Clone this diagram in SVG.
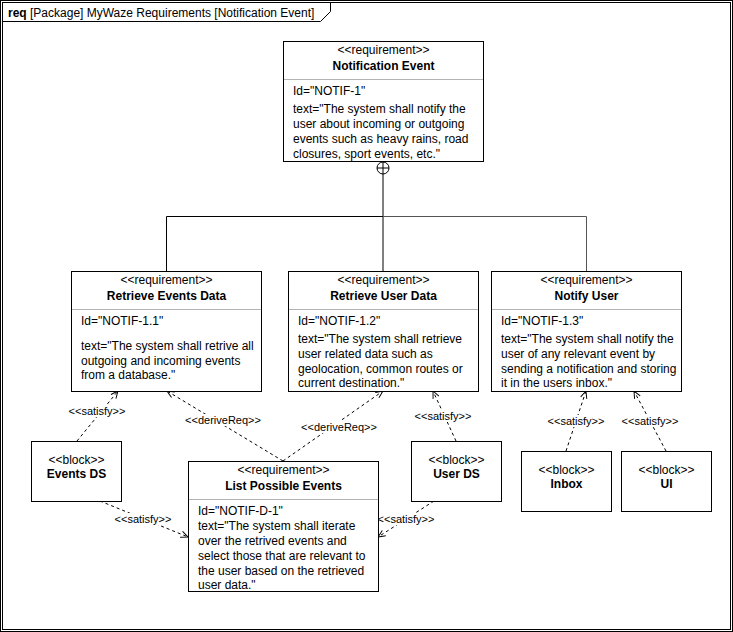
<svg xmlns="http://www.w3.org/2000/svg" width="733" height="632" viewBox="0 0 733 632">
  <defs>
    <marker id="open" viewBox="0 0 10 10" refX="10" refY="5" markerWidth="8" markerHeight="8" orient="auto" markerUnits="userSpaceOnUse">
      <path d="M1,1 L10,5 L1,9" fill="none" stroke="#000" stroke-width="1.2"/>
    </marker>
  </defs>
  <style>
    text { font-family: "Liberation Sans", Arial, sans-serif; font-size: 12px; fill: #000; }
    .b { font-weight: bold; }
    .c { text-anchor: middle; }
    .box { fill: #fff; stroke: #000; stroke-width: 1; }
    .div { stroke: #b3b3b3; stroke-width: 1; }
    .dep { fill: none; stroke: #000; stroke-width: 1; stroke-dasharray: 3 3; marker-end: url(#open); }
    .lbl { font-size: 11px; text-anchor: middle; }
    .lbg { fill: #fff; }
    .tree { fill: none; stroke: #000; stroke-width: 1; }
  </style>

  <rect x="0" y="0" width="733" height="632" fill="#fff"/>

  <!-- package frame -->
  <g id="frame">
    <rect x="0.5" y="0.5" width="732" height="631" fill="none" stroke="#000"/>
    <rect x="2.5" y="2.5" width="728" height="627" fill="none" stroke="#000"/>
    <path d="M2.5,21.5 H320.5 L330.5,11.5 V2.5" fill="none" stroke="#000"/>
    <text x="8" y="17"><tspan class="b">req</tspan> [Package] MyWaze Requirements [Notification Event]</text>
  </g>

  <!-- connectors -->
  <g id="connectors">
    <!-- containment tree -->
    <circle cx="383" cy="168" r="6" class="tree"/>
    <path d="M377,168 H389 M383,162 V271" class="tree"/>
    <path d="M166.5,271 V216.5 H383" class="tree"/>
    <path d="M383,216.5 H586.5 V271" fill="none" stroke="#555" stroke-width="1"/>

    <path class="dep" d="M77,441 L118,391"/>
    <path class="dep" d="M283,461 L167,391"/>
    <path class="dep" d="M283,461 L383,391"/>
    <path class="dep" d="M456,441 L433,391"/>
    <path class="dep" d="M566,451 L586,391"/>
    <path class="dep" d="M666,451 L634,391"/>
    <path class="dep" d="M100,501 L188,537"/>
    <path class="dep" d="M434,501 L378,537"/>

    <rect class="lbg" x="68" y="405" width="59" height="12"/>
    <text class="lbl" x="97" y="415">&lt;&lt;satisfy&gt;&gt;</text>
    <rect class="lbg" x="184" y="414" width="78" height="12"/>
    <text class="lbl" x="223" y="424">&lt;&lt;deriveReq&gt;&gt;</text>
    <rect class="lbg" x="300" y="421" width="78" height="12"/>
    <text class="lbl" x="339" y="431">&lt;&lt;deriveReq&gt;&gt;</text>
    <rect class="lbg" x="414" y="410" width="59" height="12"/>
    <text class="lbl" x="443" y="420">&lt;&lt;satisfy&gt;&gt;</text>
    <rect class="lbg" x="547" y="415" width="59" height="12"/>
    <text class="lbl" x="576" y="425">&lt;&lt;satisfy&gt;&gt;</text>
    <rect class="lbg" x="621" y="415" width="59" height="12"/>
    <text class="lbl" x="650" y="425">&lt;&lt;satisfy&gt;&gt;</text>
    <rect class="lbg" x="114" y="513" width="59" height="12"/>
    <text class="lbl" x="143" y="523">&lt;&lt;satisfy&gt;&gt;</text>
    <rect class="lbg" x="377" y="513" width="59" height="12"/>
    <text class="lbl" x="406" y="523">&lt;&lt;satisfy&gt;&gt;</text>
  </g>

  <!-- requirement: Notification Event -->
  <g id="notif-1">
    <rect class="box" x="283.5" y="41.5" width="200" height="120"/>
    <line class="div" x1="284" y1="79.5" x2="483" y2="79.5"/>
    <text class="c" x="383.5" y="54">&lt;&lt;requirement&gt;&gt;</text>
    <text class="c b" x="383.5" y="70">Notification Event</text>
    <text x="293" y="95">Id="NOTIF-1"</text>
    <text x="293" y="113">text="The system shall notify the</text>
    <text x="293" y="128">user about incoming or outgoing</text>
    <text x="293" y="143">events such as heavy rains, road</text>
    <text x="293" y="158">closures, sport events, etc."</text>
  </g>

  <!-- requirement: Retrieve Events Data -->
  <g id="notif-1-1">
    <rect class="box" x="71.5" y="271.5" width="190" height="120"/>
    <line class="div" x1="72" y1="309.5" x2="261" y2="309.5"/>
    <text class="c" x="166.5" y="284">&lt;&lt;requirement&gt;&gt;</text>
    <text class="c b" x="166.5" y="300">Retrieve Events Data</text>
    <text x="81" y="325">Id="NOTIF-1.1"</text>
    <text x="81" y="350">text="The system shall retrive all</text>
    <text x="81" y="365">outgoing and incoming events</text>
    <text x="81" y="379">from a database."</text>
  </g>

  <!-- requirement: Retrieve User Data -->
  <g id="notif-1-2">
    <rect class="box" x="288.5" y="271.5" width="190" height="120"/>
    <line class="div" x1="289" y1="309.5" x2="478" y2="309.5"/>
    <text class="c" x="383.5" y="284">&lt;&lt;requirement&gt;&gt;</text>
    <text class="c b" x="383.5" y="300">Retrieve User Data</text>
    <text x="298" y="325">Id="NOTIF-1.2"</text>
    <text x="298" y="343">text="The system shall retrieve</text>
    <text x="298" y="358">user related data such as</text>
    <text x="298" y="373">geolocation, common routes or</text>
    <text x="298" y="387">current destination."</text>
  </g>

  <!-- requirement: Notify User -->
  <g id="notif-1-3">
    <rect class="box" x="491.5" y="271.5" width="190" height="120"/>
    <line class="div" x1="492" y1="309.5" x2="681" y2="309.5"/>
    <text class="c" x="586.5" y="284">&lt;&lt;requirement&gt;&gt;</text>
    <text class="c b" x="586.5" y="300">Notify User</text>
    <text x="501" y="325">Id="NOTIF-1.3"</text>
    <text x="501" y="343">text="The system shall notify the</text>
    <text x="501" y="358">user of any relevant event by</text>
    <text x="501" y="373">sending a notification and storing</text>
    <text x="501" y="387">it in the users inbox."</text>
  </g>

  <!-- requirement: List Possible Events -->
  <g id="notif-d-1">
    <rect class="box" x="188.5" y="461.5" width="190" height="130"/>
    <line class="div" x1="189" y1="499.5" x2="378" y2="499.5"/>
    <text class="c" x="283.5" y="474">&lt;&lt;requirement&gt;&gt;</text>
    <text class="c b" x="283.5" y="490">List Possible Events</text>
    <text x="198" y="515">Id="NOTIF-D-1"</text>
    <text x="198" y="530">text="The system shall iterate</text>
    <text x="198" y="545">over the retrived events and</text>
    <text x="198" y="560">select those that are relevant to</text>
    <text x="198" y="575">the user based on the retrieved</text>
    <text x="198" y="589">user data."</text>
  </g>

  <!-- blocks -->
  <g id="events-ds">
    <rect class="box" x="31.5" y="441.5" width="90" height="60"/>
    <text class="c" x="76.5" y="464">&lt;&lt;block&gt;&gt;</text>
    <text class="c b" x="76.5" y="478">Events DS</text>
  </g>
  <g id="user-ds">
    <rect class="box" x="411.5" y="441.5" width="90" height="60"/>
    <text class="c" x="456.5" y="464">&lt;&lt;block&gt;&gt;</text>
    <text class="c b" x="456.5" y="478">User DS</text>
  </g>
  <g id="inbox">
    <rect class="box" x="521.5" y="451.5" width="90" height="60"/>
    <text class="c" x="566.5" y="474">&lt;&lt;block&gt;&gt;</text>
    <text class="c b" x="566.5" y="488">Inbox</text>
  </g>
  <g id="ui">
    <rect class="box" x="621.5" y="451.5" width="90" height="60"/>
    <text class="c" x="666.5" y="474">&lt;&lt;block&gt;&gt;</text>
    <text class="c b" x="666.5" y="488">UI</text>
  </g>
</svg>
